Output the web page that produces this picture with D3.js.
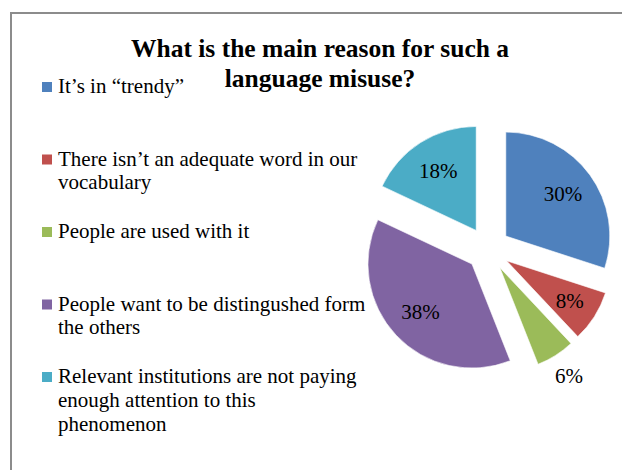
<!DOCTYPE html>
<html>
<head>
<meta charset="utf-8">
<script src="https://cdn.jsdelivr.net/npm/d3@7/dist/d3.min.js"></script>
<style>
  html, body { margin: 0; padding: 0; background: #fff; }
  svg { display: block; }
</style>
</head>
<body>
<svg id="chart" width="622" height="470"></svg>
<script>
// Survey answers: share of respondents per reason (percent)
const categories = [
  "It\u2019s in \u201Ctrendy\u201D",
  "There isn\u2019t an adequate word in our\nvocabulary",
  "People are used with it",
  "People want to be distingushed form\nthe others",
  "Relevant institutions are not paying\nenough attention to this\nphenomenon"
];
const values = [30, 8, 6, 38, 18];
const valueLabels = ["30%", "8%", "6%", "38%", "18%"];
const colors = ["#4F81BD", "#C0504D", "#9BBB59", "#8064A2", "#4BACC6"];
const titleLines = ["What is the main reason for such a", "language misuse?"];

const FONT = "'Liberation Serif', 'Times New Roman', Tinos, 'DejaVu Serif', serif";

const svg = d3.select("#chart").attr("font-family", FONT);
const W = 622, H = 470;

// Chart frame (continues past the right and bottom edges)
svg.append("rect")
  .attr("x", 11).attr("y", 13)
  .attr("width", W + 20).attr("height", H + 20)
  .attr("fill", "#fff")
  .attr("stroke", "#8c8c8c")
  .attr("stroke-width", 2);

// Title
svg.append("g").selectAll("text")
  .data(titleLines)
  .join("text")
  .attr("x", 320)
  .attr("y", (d, i) => 57 + i * 30)
  .attr("text-anchor", "middle")
  .attr("font-family", FONT)
  .attr("font-size", 25.5)
  .attr("font-weight", "bold")
  .attr("fill", "#000")
  .text(d => d);

// Exploded pie
const cx = 488, cy = 249, R = 104, explode = 22;
const pie = d3.pie().sort(null).value(d => d).startAngle(0).endAngle(2 * Math.PI);
const arcs = pie(values);
const arc = d3.arc().innerRadius(0).outerRadius(R);

const pieG = svg.append("g").attr("transform", `translate(${cx},${cy})`);
const slices = pieG.selectAll("g.slice")
  .data(arcs)
  .join("g")
  .attr("class", "slice")
  .attr("transform", d => {
    const a = (d.startAngle + d.endAngle) / 2;
    return `translate(${Math.sin(a) * explode},${-Math.cos(a) * explode})`;
  });

slices.append("path")
  .attr("d", arc)
  .attr("fill", (d, i) => colors[i])
  .attr("stroke", "#fff")
  .attr("stroke-width", 0.6);

// Percentage labels: inside the slice, outside for very thin slices
slices.append("text")
  .attr("transform", d => {
    const a = (d.startAngle + d.endAngle) / 2;
    const share = d.value / d3.sum(values);
    const rr = share < 0.07 ? R * 1.24 : share < 0.1 ? R * 0.72 : R * 0.68;
    return `translate(${Math.sin(a) * rr},${-Math.cos(a) * rr})`;
  })
  .attr("text-anchor", "middle")
  .attr("dy", "0.33em")
  .attr("font-family", FONT)
  .attr("font-size", 21)
  .attr("fill", "#000")
  .text((d, i) => valueLabels[i]);

// Legend
const legendTop = 93, legendStep = 72.5, lineH = 23.8;
const legend = svg.append("g").selectAll("g")
  .data(categories)
  .join("g")
  .attr("transform", (d, i) => `translate(0,${legendTop + i * legendStep})`);

legend.append("rect")
  .attr("x", 42).attr("y", -11)
  .attr("width", 10).attr("height", 10)
  .attr("fill", (d, i) => colors[i]);

legend.append("text")
  .attr("font-family", FONT)
  .attr("font-size", 21)
  .attr("fill", "#000")
  .selectAll("tspan")
  .data(d => d.split("\n"))
  .join("tspan")
  .attr("x", 58)
  .attr("y", (d, j) => j * lineH)
  .text(d => d);
</script>
</body>
</html>
